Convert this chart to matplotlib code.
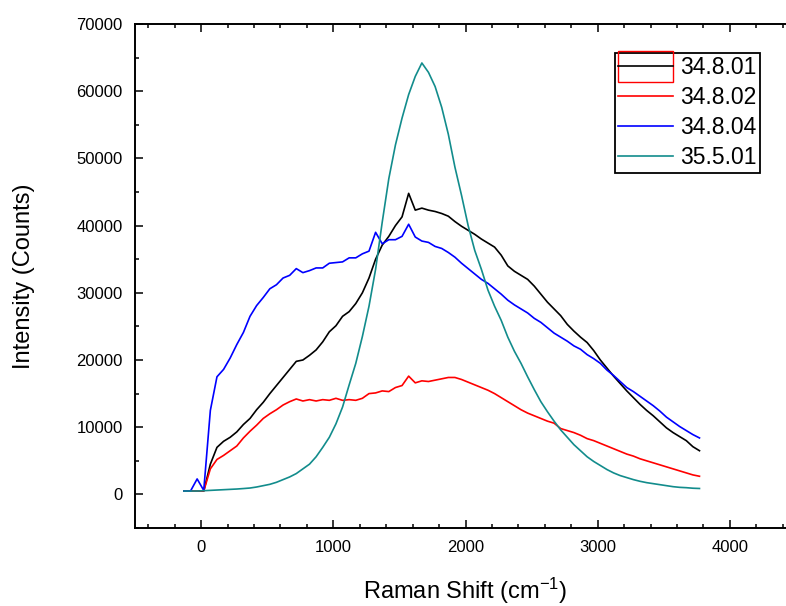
import matplotlib
matplotlib.use("Agg")
import matplotlib.pyplot as plt
import numpy as np
from matplotlib.patches import Rectangle
from matplotlib.legend_handler import HandlerTuple, HandlerPatch
from matplotlib.ticker import MultipleLocator

plt.rcParams['font.family'] = ['Liberation Sans', 'DejaVu Sans']
plt.rcParams['mathtext.fontset'] = 'custom'
plt.rcParams['mathtext.rm'] = 'Liberation Sans'
plt.rcParams['mathtext.it'] = 'Liberation Sans:italic'

# Raman shift sampling (cm-1), common for all spectra
shift = np.arange(-130, 3771, 50)

labels = ["34.8.01", "34.8.02", "34.8.04", "35.5.01"]
colors = ["#000000", "#ff0000", "#0000ff", "#128c8c"]

s_34801 = [500, 500, 500, 500, 4500, 7000, 7900, 8500, 9300, 10400,
           11300, 12600, 13700, 15000, 16200, 17400, 18600, 19800, 20000, 20700,
           21500, 22700, 24200, 25100, 26500, 27200, 28400, 30000, 32200, 35000,
           37100, 38400, 40000, 41300, 44800, 42300, 42600, 42300, 42100, 41800,
           41400, 40600, 39900, 39300, 38700, 38000, 37400, 36800, 35600, 34000,
           33200, 32600, 32000, 31000, 29800, 28600, 27600, 26600, 25300, 24300,
           23400, 22600, 21400, 20000, 18800, 17600, 16500, 15400, 14400, 13400,
           12500, 11700, 10800, 9900, 9200, 8600, 8000, 7100, 6500]

s_34802 = [500, 500, 500, 500, 3800, 5200, 5800, 6500, 7200, 8400,
           9400, 10300, 11300, 12000, 12600, 13300, 13800, 14200, 13900, 14100,
           13900, 14100, 14000, 14300, 14000, 14100, 14000, 14300, 15000, 15100,
           15400, 15300, 15900, 16200, 17600, 16600, 16900, 16800, 17000, 17200,
           17400, 17400, 17100, 16700, 16300, 15900, 15500, 15000, 14400, 13800,
           13200, 12600, 12100, 11700, 11300, 10900, 10600, 9800, 9500, 9200,
           8800, 8300, 8000, 7600, 7200, 6800, 6400, 6000, 5700, 5300,
           5000, 4700, 4400, 4100, 3800, 3500, 3200, 2900, 2700]

s_34804 = [500, 500, 2300, 600, 12500, 17500, 18600, 20300, 22300, 24100,
           26500, 28100, 29300, 30600, 31200, 32200, 32600, 33600, 33000, 33300,
           33700, 33700, 34400, 34500, 34600, 35200, 35200, 35800, 36200, 39000,
           37300, 37900, 37900, 38400, 40200, 38300, 37700, 37500, 36900, 36600,
           36000, 35300, 34400, 33600, 32800, 32000, 31400, 30600, 29800, 28900,
           28200, 27600, 27000, 26200, 25600, 24800, 24000, 23400, 22800, 22100,
           21600, 20800, 20200, 19500, 18500, 17700, 16800, 15900, 15300, 14600,
           13900, 13200, 12400, 11500, 10800, 10100, 9500, 8900, 8400]

s_35501 = [500, 500, 500, 550, 600, 650, 700, 750, 800, 870,
           950, 1100, 1300, 1500, 1800, 2200, 2600, 3100, 3800, 4500,
           5600, 7000, 8500, 10500, 13000, 16300, 19500, 23500, 28000, 33500,
           40500, 47000, 52000, 56000, 59500, 62200, 64200, 62800, 60700, 57600,
           53600, 48700, 44500, 40000, 36300, 33500, 30400, 28000, 25900, 23400,
           21300, 19500, 17500, 15600, 13800, 12300, 10900, 9600, 8500, 7400,
           6500, 5600, 4900, 4300, 3700, 3200, 2800, 2500, 2200, 1950,
           1750, 1600, 1450, 1300, 1150, 1050, 1000, 920, 880]

spectra = [s_34801, s_34802, s_34804, s_35501]

fig = plt.figure(figsize=(7.86, 6.06), dpi=100)
# axes run past the right edge of the picture, like the cropped original
ax = fig.add_axes([135 / 786, 78 / 606, 661 / 786, 504 / 606])

lines = []
for vals, col, lab in zip(spectra, colors, labels):
    ln, = ax.plot(shift, vals, color=col, lw=1.2, label=lab)
    lines.append(ln)

ax.set_xlim(-500, 4500)
ax.set_ylim(-5000, 70000)
ax.xaxis.set_major_locator(MultipleLocator(1000))
ax.xaxis.set_minor_locator(MultipleLocator(200))
ax.yaxis.set_major_locator(MultipleLocator(10000))
ax.yaxis.set_minor_locator(MultipleLocator(5000))
ax.tick_params(which='both', direction='in', top=True, right=False, width=1.1)
ax.tick_params(which='major', length=6, labelsize=12, pad=9)
ax.tick_params(which='minor', length=3)
for sp in ax.spines.values():
    sp.set_linewidth(1.4)

ax.set_xlabel(r'Raman Shift (cm$^{\mathregular{-1}}$)', fontsize=17)
ax.set_ylabel('Intensity (Counts)', fontsize=17)
ax.xaxis.set_label_coords(0.5, -0.095)
ax.yaxis.set_label_coords(-0.152, 0.5)


# red selection box around the first legend entry, as in the source
def tall_box(legend, orig_handle, xdescent, ydescent, width, height, fontsize):
    return Rectangle((-xdescent, -ydescent - 0.45 * height), width, height * 1.9,
                     fill=False, edgecolor='red', lw=1.4)


sel = Rectangle((0, 0), 1, 1, fill=False, edgecolor='red')
handles = [(sel, lines[0])] + lines[1:]
leg = ax.legend(handles, labels, loc='upper left',
                bbox_to_anchor=(615 / 786, 1 - 53 / 606), bbox_transform=fig.transFigure,
                borderaxespad=0, fontsize=16.5, handlelength=2.4, handletextpad=0.3,
                borderpad=0.15, labelspacing=0.3, fancybox=False, framealpha=1,
                edgecolor='black',
                handler_map={tuple: HandlerTuple(ndivide=1, pad=0),
                             Rectangle: HandlerPatch(patch_func=tall_box)})
leg.get_frame().set_linewidth(1.3)

fig.savefig('out.png', dpi=100)
